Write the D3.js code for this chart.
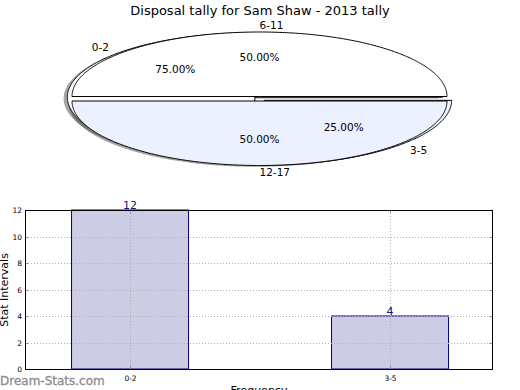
<!DOCTYPE html>
<html><head><meta charset="utf-8">
<script src="https://cdn.jsdelivr.net/npm/d3@7"></script>
<style>body{margin:0;background:#fff}svg{display:block;font-family:"DejaVu Sans",sans-serif}</style>
</head><body><svg id="c" width="520" height="390"></svg>
<script>
// ---- data ----
const title = "Disposal tally for Sam Shaw - 2013 tally";
const pieLabels = ["0-2", "3-5", "6-11", "12-17"];
const pieFractions = [0.75, 0.25, 0.50, 0.50];
const pieColors = ["#ffffff", "#ebf1fe", "#ffffff", "#ebf1fe"];
const barCategories = ["0-2", "3-5"];
const barValues = [12, 4];
const yTicks = [0, 2, 4, 6, 8, 10, 12];

const svg = d3.select("#c");

svg.append("text").attr("x", 260).attr("y", 15).attr("text-anchor", "middle")
  .attr("font-size", 13).attr("fill", "#000").text(title);

// ---- pie (matplotlib style, elliptical, exploded, with shadow) ----
const explode = 0.035;
const px = d3.scaleLinear().domain([-1, 1]).range([259.5 - 187.5, 259.5 + 187.5]);
const py = d3.scaleLinear().domain([-1, 1]).range([98.75 + 64.5, 98.75 - 64.5]);
const gPie = svg.append("g");
let cum = 0;
const wedges = pieFractions.map((f, i) => {
  const t1 = cum * 2 * Math.PI, t2 = (cum + f) * 2 * Math.PI;
  cum += f;
  const mid = (t1 + t2) / 2;
  const ox = explode * Math.cos(mid), oy = explode * Math.sin(mid);
  const n = Math.max(8, Math.ceil((t2 - t1) / 0.01));
  const pts = [[ox, oy]].concat(d3.range(n + 1).map(k => {
    const t = t1 + (t2 - t1) * k / n;
    return [ox + Math.cos(t), oy + Math.sin(t)];
  }));
  return {i, mid, ox, oy, pts};
});
const toPath = (pts, dx, dy) => "M" + pts.map(p => [px(p[0] + dx), py(p[1] + dy)].join(",")).join("L") + "Z";
// shadows first
wedges.forEach(w => {
  const c = d3.color(pieColors[w.i]);
  gPie.append("path").attr("d", toPath(w.pts, -0.02, -0.02))
    .attr("fill", d3.rgb(c.r * 0.3, c.g * 0.3, c.b * 0.3)).attr("fill-opacity", 0.5).attr("stroke", "none");
});
wedges.forEach(w => {
  gPie.append("path").attr("d", toPath(w.pts, 0, 0))
    .attr("fill", pieColors[w.i]).attr("stroke", "#000").attr("stroke-width", 1).attr("stroke-linejoin", "round");
});
wedges.forEach(w => {
  const lx = w.ox + 1.1 * Math.cos(w.mid), ly = w.oy + 1.1 * Math.sin(w.mid);
  gPie.append("text").attr("x", px(lx)).attr("y", py(ly)).attr("dy", "0.35em")
    .attr("text-anchor", Math.cos(w.mid) > -1e-9 ? "start" : "end")
    .attr("font-size", 10.5).text(pieLabels[w.i]);
  const tx = w.ox + 0.6 * Math.cos(w.mid), ty = w.oy + 0.6 * Math.sin(w.mid);
  gPie.append("text").attr("x", px(tx)).attr("y", py(ty)).attr("dy", "0.35em")
    .attr("text-anchor", "middle").attr("font-size", 10.5)
    .text((pieFractions[w.i] * 100).toFixed(2) + "%");
});

// ---- bar chart ----
const L = 25, R = 493, T = 210, B = 369;
const x = d3.scaleLinear().domain([-0.404, 1.396]).range([L, R]);
const y = d3.scaleLinear().domain([0, 12]).range([B, T]);
const bw = 0.45;
const g = svg.append("g");
// bars
barValues.forEach((v, i) => {
  g.append("rect").attr("x", x(i - bw / 2)).attr("y", y(v))
    .attr("width", x(i + bw / 2) - x(i - bw / 2)).attr("height", y(0) - y(v))
    .attr("fill", "#cccce4").attr("stroke", "#000080").attr("stroke-width", 1);
});
// grid
yTicks.forEach(t => {
  g.append("line").attr("x1", L).attr("x2", R).attr("y1", Math.round(y(t)) + 0.5).attr("y2", Math.round(y(t)) + 0.5)
    .attr("stroke", "#b0b0b0").attr("stroke-dasharray", "1,2");
});
barCategories.forEach((c, i) => {
  g.append("line").attr("x1", Math.round(x(i)) + 0.5).attr("x2", Math.round(x(i)) + 0.5).attr("y1", T).attr("y2", B)
    .attr("stroke", "#b0b0b0").attr("stroke-dasharray", "1,2");
});
// ticks (inside)
yTicks.forEach(t => {
  const yy = Math.round(y(t)) + 0.5;
  g.append("line").attr("x1", L).attr("x2", L + 4).attr("y1", yy).attr("y2", yy).attr("stroke", "#999");
  g.append("line").attr("x1", R - 4).attr("x2", R).attr("y1", yy).attr("y2", yy).attr("stroke", "#999");
  g.append("text").attr("x", L - 3).attr("y", yy).attr("dy", "0.35em").attr("text-anchor", "end")
    .attr("font-size", 7.5).text(t);
});
barCategories.forEach((c, i) => {
  const xx = Math.round(x(i)) + 0.5;
  g.append("line").attr("x1", xx).attr("x2", xx).attr("y1", B - 4).attr("y2", B).attr("stroke", "#999");
  g.append("line").attr("x1", xx).attr("x2", xx).attr("y1", T).attr("y2", T + 4).attr("stroke", "#999");
  g.append("text").attr("x", xx).attr("y", B + 12).attr("text-anchor", "middle")
    .attr("font-size", 7.5).text(c);
});
// frame
g.append("rect").attr("x", L + 0.5).attr("y", T + 0.5).attr("width", R - L - 1).attr("height", B - T)
  .attr("fill", "none").attr("stroke", "#000").attr("stroke-width", 1);
// value labels
barValues.forEach((v, i) => {
  g.append("text").attr("x", x(i)).attr("y", y(v) - 1).attr("text-anchor", "middle")
    .attr("font-size", 11).attr("fill", "#10108a").text(v);
});
// axis titles
svg.append("text").attr("transform", "translate(8,290) rotate(-90)").attr("text-anchor", "middle")
  .attr("font-size", 11).text("Stat Intervals");
svg.append("text").attr("x", 259).attr("y", 394).attr("text-anchor", "middle")
  .attr("font-size", 11).text("Frequency");
// watermark
svg.append("text").attr("x", 0).attr("y", 385).attr("font-size", 12)
  .attr("fill", "#8c8c8c").attr("stroke", "#8c8c8c").attr("stroke-width", 0.3).text("Dream-Stats.com");
</script></body></html>
